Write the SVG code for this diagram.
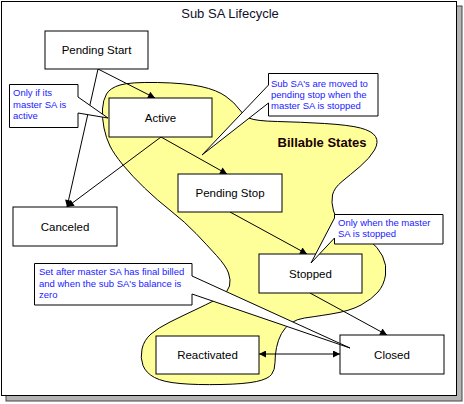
<svg xmlns="http://www.w3.org/2000/svg" width="464" height="404" viewBox="0 0 464 404">
<style>
.node rect{fill:#fff;stroke:#000;stroke-width:1}
.node text{font-family:"Liberation Sans",Arial,sans-serif;font-size:11.5px;fill:#000;text-anchor:middle}
.call polygon{fill:#fff;stroke:#000;stroke-width:1}
.call text{font-family:"Liberation Sans",Arial,sans-serif;font-size:9.5px;fill:#1a1aff}
.conn line{stroke:#000;stroke-width:1;marker-end:url(#ah)}
</style>
<defs>
<marker id="ah" viewBox="0 0 10 10" refX="10" refY="5" markerUnits="userSpaceOnUse" markerWidth="9" markerHeight="7" orient="auto-start-reverse">
<path d="M0,0 L10,5 L0,10 z" fill="#000"/>
</marker>
</defs>
<g id="frame">
<rect x="6" y="6" width="456" height="395" fill="#b4b4b4" stroke="#444" stroke-width="1"/>
<rect x="1.5" y="1.5" width="455" height="394" fill="#fff" stroke="#000" stroke-width="1"/>
<text x="230" y="18" font-family="Liberation Sans,Arial,sans-serif" font-size="13" fill="#10102a" text-anchor="middle">Sub SA Lifecycle</text>
</g>
<g id="billable-states">
<path d="M106.5,94 Q110,88 120,85 Q130,82 157.5,82.5 Q185,83 201,86.5 Q217,90 226,96.5 Q235,103 239,109 Q243,115 249,118 Q255,121 277.5,121.5 Q300,122 324.5,123.5 Q349,125 360.5,128 Q372,131 375.5,136.5 Q379,142 374.5,150 Q370,158 360,166.5 Q350,175 342,181.5 Q334,188 332.5,195 Q331,202 333.5,211 Q336,220 348,226.5 Q360,233 369,240 Q378,247 382.5,256 Q387,265 385.5,275 Q384,285 378,292 Q372,299 361,305 Q350,311 331,314 Q312,317 304.5,318 Q297,319 291,323 Q285,327 281.5,333.5 Q278,340 276.5,347.5 Q275,355 275,362.5 Q275,370 271.5,374.5 Q268,379 256.5,381.5 Q245,384 221,384.5 Q197,385 180,383.5 Q163,382 154.5,377.5 Q146,373 143,365.5 Q140,358 142,349 Q144,340 151,334 Q158,328 170,322 Q182,316 198,308.5 Q214,301 221,296.5 Q228,292 229.5,286 Q231,280 228.5,273 Q226,266 216.5,255.5 Q207,245 196,233.5 Q185,222 171,211 Q157,200 144.5,188 Q132,176 123,165 Q114,154 110,146 Q106,138 104,128 Q102,118 102.5,109 Q103,100 106.5,94 Z" fill="#ffff99" stroke="#000" stroke-width="1"/>
<text x="322" y="147" font-family="Liberation Sans,Arial,sans-serif" font-size="13" font-weight="bold" fill="#1a0000" text-anchor="middle">Billable States</text>
</g>
<g id="connectors" class="conn">
<line x1="98" y1="69" x2="155" y2="98"/>
<line x1="98" y1="69" x2="67" y2="207"/>
<line x1="161" y1="137" x2="67" y2="207"/>
<line x1="161" y1="137" x2="227" y2="174"/>
<line x1="230" y1="212" x2="307" y2="254"/>
<line x1="310" y1="293" x2="387" y2="335"/>
<line x1="259" y1="354" x2="340" y2="354" style="marker-start:url(#ah)"/>
</g>
<g id="pending-start" class="node"><rect x="45" y="31" width="103" height="38"/><text x="96.5" y="54">Pending Start</text></g>
<g id="active" class="node"><rect x="109" y="98" width="103" height="39"/><text x="160.5" y="121.5">Active</text></g>
<g id="pending-stop" class="node"><rect x="178" y="174" width="104" height="38"/><text x="230" y="197">Pending Stop</text></g>
<g id="canceled" class="node"><rect x="13" y="207" width="104" height="39"/><text x="65" y="230.5">Canceled</text></g>
<g id="stopped" class="node"><rect x="259" y="254" width="103" height="39"/><text x="310.5" y="277.5">Stopped</text></g>
<g id="reactivated" class="node"><rect x="156" y="336" width="103" height="38"/><text x="207.5" y="359">Reactivated</text></g>
<g id="closed" class="node"><rect x="340" y="335" width="104" height="39"/><text x="392" y="358.5">Closed</text></g>
<g id="note-active" class="call">
<polygon points="9.5,84.5 78,84.5 78,97 108,118 78,113 78,127.5 9.5,127.5"/>
<text x="13" y="96">Only if its</text><text x="13" y="107.5">master SA is</text><text x="13" y="119">active</text>
</g>
<g id="note-pending-stop" class="call">
<polygon points="268.5,73.5 378,73.5 378,116 268.5,116 268.5,103 202,155 268.5,85"/>
<text x="271" y="87">Sub SA's are moved to</text><text x="271" y="98">pending stop when the</text><text x="271" y="109">master SA is stopped</text>
</g>
<g id="note-stopped" class="call">
<polygon points="334.5,214.5 443,214.5 443,244 334.5,244 334.5,238 311,263 334.5,218"/>
<text x="338" y="226">Only when the master</text><text x="338" y="237">SA is stopped</text>
</g>
<g id="note-closed" class="call">
<polygon points="34.5,263.5 192,263.5 192,276 350,348 192,294 192,305 34.5,305"/>
<text x="39" y="275">Set after master SA has final billed</text><text x="39" y="286.5">and when the sub SA's balance is</text><text x="39" y="298">zero</text>
</g>
</svg>
